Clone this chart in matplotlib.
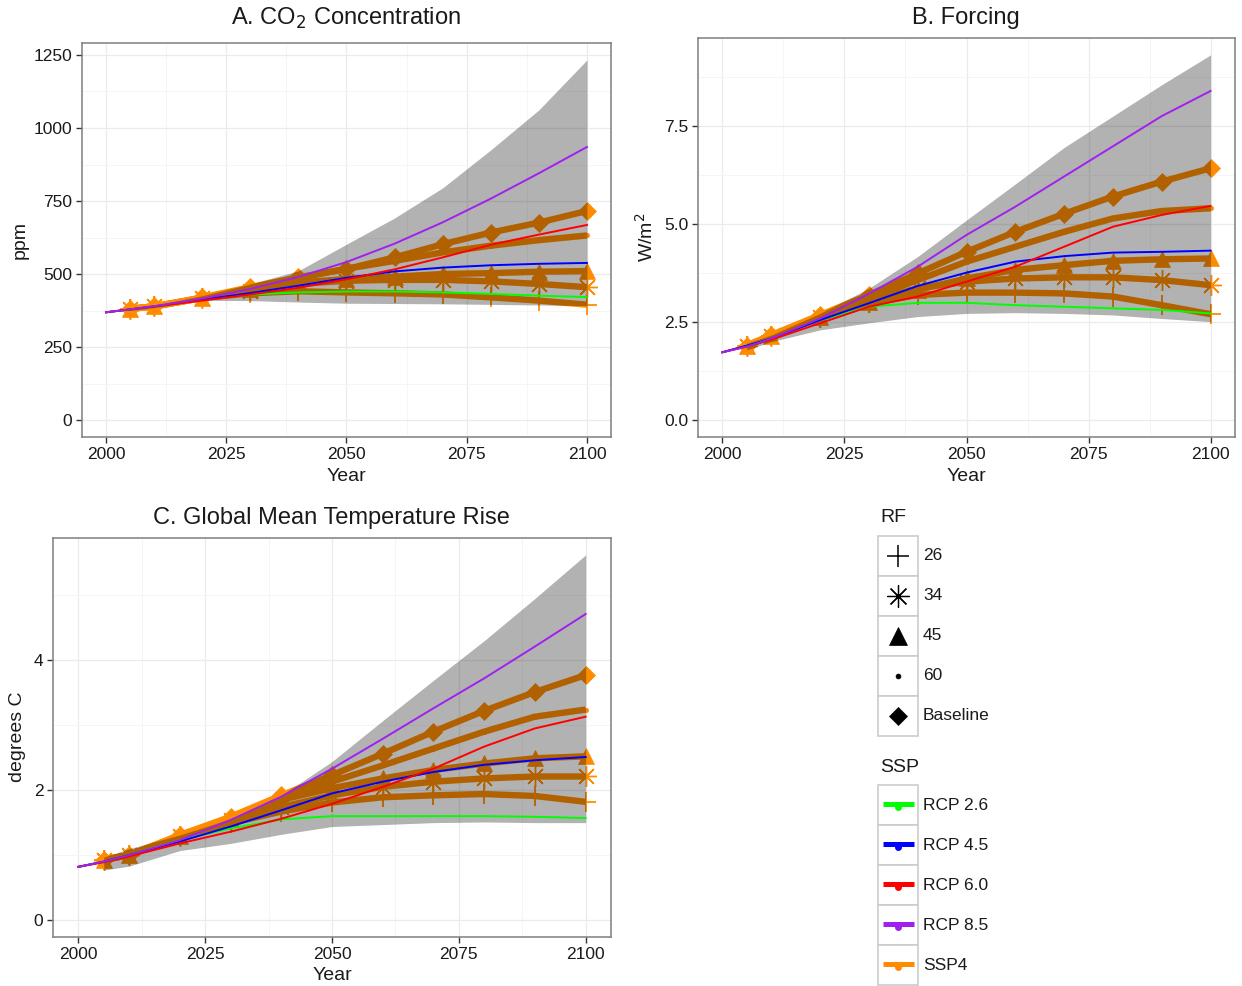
import matplotlib
matplotlib.use('Agg')
import matplotlib.pyplot as plt

plt.rcParams['font.family'] = ['Liberation Sans', 'DejaVu Sans']

# ---------------- data ----------------
years_rcp = [2000, 2005, 2010, 2020, 2030, 2040, 2050, 2060, 2070, 2080, 2090, 2100]
years_ssp = [2005, 2010, 2020, 2030, 2040, 2050, 2060, 2070, 2080, 2090, 2100]

rcp_names = ['RCP 2.6', 'RCP 4.5', 'RCP 6.0', 'RCP 8.5', 'SSP4']
rf_names = ['26', '34', '45', '60', 'Baseline']

# CO2 concentration (ppm)
co2_rcp26 = [369, 379, 389, 412, 430, 437, 440, 440, 437, 432, 426, 421]
co2_rcp45 = [369, 379, 389, 412, 435, 460, 487, 509, 522, 530, 535, 538]
co2_rcp60 = [369, 379, 389, 409, 430, 453, 482, 516, 557, 600, 635, 668]
co2_rcp85 = [369, 379, 390, 416, 449, 490, 541, 604, 677, 758, 845, 935]
co2_base = [381, 389, 420, 455, 489, 517, 557, 602, 642, 676, 716]
co2_rf60 = [381, 389, 418, 450, 486, 518, 545, 574, 597, 616, 632]
co2_rf45 = [381, 389, 418, 449, 471, 483, 491, 500, 503, 508, 510]
co2_rf34 = [381, 389, 418, 443, 466, 477, 480, 480, 475, 466, 455]
co2_rf26 = [381, 389, 418, 434, 441, 437, 434, 430, 420, 409, 395]
co2_low = [375, 385, 410, 409, 404, 400, 399, 398, 396, 394, 392]
co2_high = [383, 393, 426, 466, 511, 602, 692, 795, 925, 1062, 1233]

# Forcing (W/m2)
frc_rcp26 = [1.73, 1.90, 2.08, 2.55, 2.89, 2.99, 2.99, 2.93, 2.89, 2.85, 2.81, 2.72]
frc_rcp45 = [1.73, 1.90, 2.08, 2.55, 2.98, 3.42, 3.76, 4.04, 4.18, 4.27, 4.29, 4.32]
frc_rcp60 = [1.73, 1.88, 2.05, 2.47, 2.89, 3.15, 3.53, 3.91, 4.42, 4.93, 5.23, 5.46]
frc_rcp85 = [1.73, 1.87, 2.08, 2.59, 3.22, 3.91, 4.72, 5.44, 6.21, 6.98, 7.75, 8.39]
frc_base = [1.90, 2.17, 2.68, 3.19, 3.74, 4.29, 4.80, 5.26, 5.70, 6.08, 6.42]
frc_rf60 = [1.90, 2.15, 2.62, 3.10, 3.57, 4.04, 4.42, 4.80, 5.14, 5.33, 5.40]
frc_rf45 = [1.90, 2.15, 2.62, 3.02, 3.32, 3.61, 3.83, 3.95, 4.06, 4.10, 4.12]
frc_rf34 = [1.90, 2.15, 2.62, 3.02, 3.36, 3.53, 3.61, 3.64, 3.64, 3.57, 3.44]
frc_rf26 = [1.90, 2.15, 2.60, 2.98, 3.19, 3.25, 3.25, 3.23, 3.15, 2.93, 2.70]
frc_low = [1.79, 2.00, 2.30, 2.48, 2.64, 2.72, 2.74, 2.72, 2.68, 2.59, 2.51]
frc_high = [1.96, 2.17, 2.72, 3.36, 4.17, 5.10, 6.02, 6.95, 7.75, 8.55, 9.31]

# Temperature (degrees C)
tmp_rcp26 = [0.82, 0.90, 1.00, 1.23, 1.41, 1.55, 1.60, 1.60, 1.60, 1.60, 1.59, 1.57]
tmp_rcp45 = [0.82, 0.90, 1.00, 1.21, 1.44, 1.69, 1.95, 2.13, 2.28, 2.39, 2.46, 2.51]
tmp_rcp60 = [0.82, 0.89, 0.98, 1.18, 1.36, 1.56, 1.79, 2.05, 2.33, 2.67, 2.95, 3.13]
tmp_rcp85 = [0.82, 0.90, 1.00, 1.23, 1.54, 1.90, 2.33, 2.79, 3.26, 3.72, 4.21, 4.71]
tmp_base = [0.93, 1.00, 1.31, 1.59, 1.92, 2.23, 2.56, 2.90, 3.22, 3.51, 3.77]
tmp_rf60 = [0.93, 1.00, 1.30, 1.56, 1.85, 2.13, 2.38, 2.64, 2.90, 3.13, 3.24]
tmp_rf45 = [0.93, 1.00, 1.30, 1.56, 1.85, 2.03, 2.18, 2.31, 2.41, 2.49, 2.52]
tmp_rf34 = [0.93, 1.00, 1.30, 1.54, 1.74, 1.92, 2.05, 2.13, 2.18, 2.21, 2.21]
tmp_rf26 = [0.93, 1.00, 1.29, 1.49, 1.67, 1.81, 1.89, 1.92, 1.94, 1.91, 1.82]
tmp_low = [0.77, 0.83, 1.07, 1.18, 1.32, 1.44, 1.47, 1.50, 1.51, 1.50, 1.50]
tmp_high = [0.97, 1.10, 1.31, 1.56, 1.92, 2.44, 3.07, 3.69, 4.30, 4.95, 5.62]

# ---------------- style ----------------
C_GREEN, C_BLUE, C_RED, C_PURPLE, C_ORANGE = '#00FF00', '#0000FF', '#FF0000', '#A020F0', '#FF8C00'
rcp_colors = [C_GREEN, C_BLUE, C_RED, C_PURPLE, C_ORANGE]
TXT = '#1A1A1A'

W, H = 1242, 986
fig = plt.figure(figsize=(W / 100, H / 100), dpi=100)


def add_ax(x0, y0, x1, y1):
    return fig.add_axes([x0 / W, 1 - y1 / H, (x1 - x0) / W, (y1 - y0) / H])


def style(ax, ylim, yticks, ylabels, yminor):
    ax.set_xlim(1995, 2105)
    ax.set_ylim(*ylim)
    ax.set_xticks([2000, 2025, 2050, 2075, 2100])
    ax.set_xticks([2012.5, 2037.5, 2062.5, 2087.5], minor=True)
    ax.set_yticks(yticks)
    ax.set_yticklabels(ylabels)
    ax.set_yticks(yminor, minor=True)
    ax.grid(which='major', color='#EBEBEB', lw=0.9)
    ax.grid(which='minor', color='#F5F5F5', lw=0.7)
    ax.set_axisbelow(True)
    for s in ax.spines.values():
        s.set_color('#7F7F7F')
        s.set_linewidth(1.1)
    ax.tick_params(which='major', length=4, width=1.0, color='#333333',
                   labelsize=12.5, labelcolor=TXT, pad=3)
    ax.tick_params(which='minor', length=0)


def draw_panel(ax, rcps, ssps, low, high):
    markers = [('+', 15, 1.3), ((8, 2, 0), 15, 1.0), ('^', 12, 0.5), ('o', 3, 0.5), ('D', 9, 0.5)]
    for vals, (m, ms, mew) in zip(ssps, markers):
        ax.plot(years_ssp, vals, color=C_ORANGE, lw=4.6, solid_capstyle='butt',
                solid_joinstyle='round', zorder=2)
        ax.plot(years_ssp, vals, ls='none', marker=m, ms=ms, mew=mew,
                color=C_ORANGE, mec=C_ORANGE, zorder=2.5)
    ax.fill_between(years_ssp, low, high, color='black', alpha=0.3, lw=0, zorder=3)
    for vals, c in zip(rcps, rcp_colors[:4]):
        ax.plot(years_rcp, vals, color=c, lw=1.4, zorder=4)


# Panel A
axA = add_ax(82, 43, 611, 437)
style(axA, (-58, 1291), [0, 250, 500, 750, 1000, 1250],
      ['0', '250', '500', '750', '1000', '1250'], [125, 375, 625, 875, 1125])
draw_panel(axA, [co2_rcp26, co2_rcp45, co2_rcp60, co2_rcp85],
           [co2_rf26, co2_rf34, co2_rf45, co2_rf60, co2_base], co2_low, co2_high)

# Panel B
axB = add_ax(698, 38, 1235, 437)
style(axB, (-0.43, 9.74), [0, 2.5, 5.0, 7.5], ['0.0', '2.5', '5.0', '7.5'],
      [1.25, 3.75, 6.25, 8.75])
draw_panel(axB, [frc_rcp26, frc_rcp45, frc_rcp60, frc_rcp85],
           [frc_rf26, frc_rf34, frc_rf45, frc_rf60, frc_base], frc_low, frc_high)

# Panel C
axC = add_ax(53, 538, 611, 937)
style(axC, (-0.26, 5.88), [0, 2, 4], ['0', '2', '4'], [1, 3, 5])
draw_panel(axC, [tmp_rcp26, tmp_rcp45, tmp_rcp60, tmp_rcp85],
           [tmp_rf26, tmp_rf34, tmp_rf45, tmp_rf60, tmp_base], tmp_low, tmp_high)

# Titles and axis labels (pixel placement)
def ftext(x, y, s, **kw):
    fig.text(x / W, 1 - y / H, s, color=TXT, **kw)

ftext(346, 18, r'A. CO$_2$ Concentration', fontsize=17, ha='center', va='center')
ftext(966, 18, 'B. Forcing', fontsize=17, ha='center', va='center')
ftext(331, 518, 'C. Global Mean Temperature Rise', fontsize=17, ha='center', va='center')
ftext(346, 476, 'Year', fontsize=14, ha='center', va='center')
ftext(966, 476, 'Year', fontsize=14, ha='center', va='center')
ftext(332, 976, 'Year', fontsize=14, ha='center', va='center')
ftext(20, 240, 'ppm', fontsize=14, ha='center', va='center', rotation=90)
ftext(646, 237, r'W/m$^2$', fontsize=14, ha='center', va='center', rotation=90)
ftext(18, 737, 'degrees C', fontsize=14, ha='center', va='center', rotation=90)

# ---------------- legends ----------------
lax = fig.add_axes([0, 0, 1, 1])
lax.set_xlim(0, W)
lax.set_ylim(H, 0)
lax.axis('off')

lax.text(880, 518, 'RF', fontsize=14, ha='left', va='center', color=TXT)
rf_keys = [('+', 16, 1.1), ((8, 2, 0), 16, 0.9), ('^', 13, 0.5), ('o', 3.5, 0.5), ('D', 9, 0.5)]
for i, (name, (m, ms, mew)) in enumerate(zip(rf_names, rf_keys)):
    y0 = 536 + 40 * i
    lax.add_patch(plt.Rectangle((878, y0), 40, 40, fc='white', ec='#CCCCCC', lw=1.2))
    lax.plot([898], [y0 + 20], marker=m, ms=ms, mew=mew, color='black', ls='none')
    lax.text(923, y0 + 20, name, fontsize=12.5, ha='left', va='center', color=TXT)

lax.text(880, 767, 'SSP', fontsize=14, ha='left', va='center', color=TXT)
for i, (name, c) in enumerate(zip(rcp_names, rcp_colors)):
    y0 = 785 + 40 * i
    lax.add_patch(plt.Rectangle((878, y0), 40, 40, fc='white', ec='#CCCCCC', lw=1.2))
    lax.plot([883, 914], [y0 + 19, y0 + 19], color=c, lw=3.6, solid_capstyle='butt')
    lax.plot([898], [y0 + 21.5], marker='o', ms=4, color=c, ls='none')
    lax.text(923, y0 + 20, name, fontsize=12.5, ha='left', va='center', color=TXT)

fig.savefig('out.png', dpi=100)
